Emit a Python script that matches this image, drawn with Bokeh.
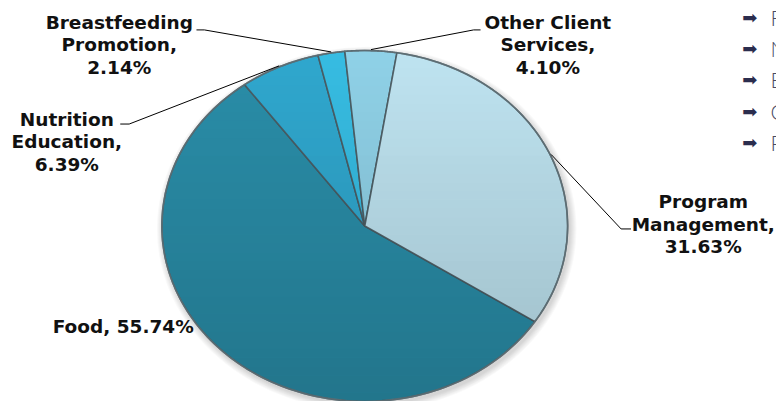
import numpy as np
from bokeh.plotting import figure
from bokeh.models import Range1d
from bokeh.embed import file_html
from bokeh.resources import INLINE
from bokeh.core.properties import value

# ---- data ----
categories = ["Food", "Nutrition Education", "Breastfeeding Promotion",
              "Other Client Services", "Program Management"]
shares = [55.74, 6.39, 2.14, 4.10, 31.63]
label_names = ["Food,", "Nutrition\nEducation,", "Breastfeeding\nPromotion,",
               "Other Client\nServices,", "Program\nManagement,"]
label_seps = [" ", "\n", "\n", "\n", "\n"]
colors = ["#2a8ea9", "#30a8cf", "#37bde3", "#90d2e8", "#bfe4f1"]

# ---- layout / style ----
W, H = 776, 401
cx, cy, rx, ry = 368.0, 230.0, 205.0, 179.0
start_deg = 123.0  # clockwise from 12 o'clock

p = figure(width=W, height=H, x_range=Range1d(0, 784), y_range=Range1d(409, 0),
           output_backend="svg", toolbar_location=None, min_border=0,
           x_axis_location=None, y_axis_location=None)
p.grid.visible = False
p.outline_line_color = None
p.background_fill_color = "white"
p.border_fill_color = "white"


def ell_pt(theta_deg, sx=rx, sy=ry):
    t = np.radians(theta_deg)
    return cx + sx * np.sin(t), cy - sy * np.cos(t)


# soft shadow
for k in range(1, 8):
    p.ellipse(x=cx + 2, y=cy + 3, width=2 * (rx + k), height=2 * (ry + k),
              fill_color="#000000", fill_alpha=0.022, line_color=None)

# slices
frac = np.array(shares) / np.sum(shares)
bounds = start_deg + 360.0 * np.concatenate([[0.0], np.cumsum(frac)])
xs, ys, mids = [], [], []
for i in range(len(shares)):
    t = np.linspace(bounds[i], bounds[i + 1], 120)
    px, py = ell_pt(t)
    xs.append([cx] + list(px))
    ys.append([cy] + list(py))
    mids.append(0.5 * (bounds[i] + bounds[i + 1]))
p.patches(xs, ys, fill_color=colors, line_color="#4a5a60", line_width=1.6,
          line_alpha=0.9)

# vertical shading (darker toward bottom)
N = 40
for i in range(N):
    y0 = cy - ry + 2 * ry * i / N
    y1 = cy - ry + 2 * ry * (i + 1) / N
    yy = np.linspace(y0, y1, 6)
    half = rx * np.sqrt(np.clip(1 - ((yy - cy) / ry) ** 2, 0, 1))
    sx = list(cx - half) + list((cx + half)[::-1])
    sy = list(yy) + list(yy[::-1])
    p.patch(sx, sy, fill_color="#000000", fill_alpha=0.17 * (i + 0.5) / N,
            line_color=None)

# outer rim
p.ellipse(x=cx, y=cy, width=2 * rx, height=2 * ry, fill_color=None,
          line_color="#5f6f75", line_width=1.6, line_alpha=0.8)

# leader lines (pie end computed from slice mid-angles)
leader_start = {1: [(121, 126), (130, 126)], 2: [(198, 30), (206, 30)],
                3: [(485, 30), (478, 30)], 4: [(637, 233), (627, 233)]}
lx, ly = [], []
for i, pts in leader_start.items():
    ax, ay = ell_pt(mids[i], rx + 1, ry + 1)
    lx.append([pts[0][0], pts[1][0], float(ax)])
    ly.append([pts[0][1], pts[1][1], float(ay)])
p.multi_line(lx, ly, line_color="#000000", line_width=1)

# labels, one text per line
pcts = [f"{s:.2f}%" for s in shares]
texts = [n + s + v for n, s, v in zip(label_names, label_seps, pcts)]
label_x = [124, 67, 120, 553, 710]
label_y0 = [332, 121, 22, 22, 205]
line_gap = 23.0
tx, ty, tt = [], [], []
for x0, y0, t in zip(label_x, label_y0, texts):
    for j, line in enumerate(t.split("\n")):
        tx.append(x0)
        ty.append(y0 + j * line_gap)
        tt.append(line)
p.text(x=tx, y=ty, text=tt, text_font=value("DejaVu Sans"),
       text_font_style="bold", text_font_size="18.5px", text_align="center",
       text_baseline="middle", text_color="#111111")

# legend (cut off at the right edge)
leg_y = [17 + 32 * i for i in range(len(categories))]
p.text(x=[757] * len(categories), y=leg_y, text=["\u27a1"] * len(categories),
       text_font=value("DejaVu Sans"), text_font_size="18px",
       text_align="center", text_baseline="middle", text_color="#2b2d4e")
p.text(x=[778] * len(categories), y=leg_y, text=categories,
       text_font=value("Lato Light"), text_font_size="21px",
       text_align="left", text_baseline="middle", text_color="#4a4c63")

open("out.html", "w").write(file_html(p, INLINE))
